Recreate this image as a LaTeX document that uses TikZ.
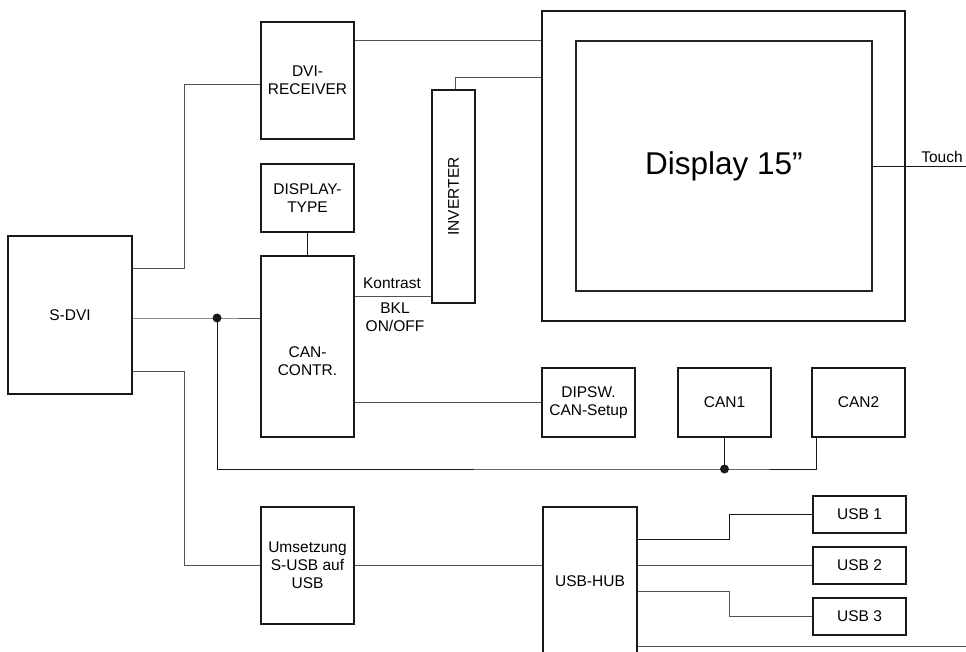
\documentclass[tikz,border=0pt]{standalone}
\usepackage{fontspec}
\setmainfont{Liberation Sans}
\begin{document}
\begin{tikzpicture}[x=1pt,y=-1pt,
  box/.style={draw=black!90,line width=2pt,inner sep=0pt,align=center,
    font=\fontsize{15.5}{18}\selectfont},
  lbl/.style={inner sep=0pt,align=center,font=\fontsize{15.5}{18}\selectfont},
  wire/.style={draw=black!68,line width=0.9pt},
  bus/.style={draw=black!90,line width=0.9pt},
  dot/.style={fill=black!90,draw=none}]
\useasboundingbox (0,0) rectangle (966,652);
\clip (0,0) rectangle (966,652);
% boxes
\node[box,minimum width=93pt,minimum height=117pt] (dvirec) at (307.5,80.5) {DVI-\\RECEIVER};
\node[box,minimum width=93pt,minimum height=68pt] (disptype) at (307.5,198) {DISPLAY-\\TYPE};
\node[box,minimum width=93pt,minimum height=181pt] (canctr) at (307.5,346.5) {};
\node[lbl] (canctrtxt) at (307.5,361) {CAN-\\CONTR.};
\node[box,minimum width=124pt,minimum height=158pt] (sdvi) at (70,315) {S-DVI};
\node[box,minimum width=43pt,minimum height=213pt] (inverter) at (453.5,196.5) {\rotatebox{90}{INVERTER}};
\node[box,minimum width=363pt,minimum height=310pt] (disp) at (723.5,166) {};
\node[draw=black!85,line width=1.1pt,inner sep=0pt,minimum width=296pt,minimum height=250pt,
  font=\fontsize{31.5}{36}\selectfont] (inner) at (724,166) {Display 15”};
\node[box,minimum width=93pt,minimum height=69pt] (dipsw) at (588.5,402.5) {DIPSW.\\CAN-Setup};
\node[box,minimum width=93pt,minimum height=69pt] (can1) at (724.5,402.5) {CAN1};
\node[box,minimum width=93pt,minimum height=69pt] (can2) at (858.5,402.5) {CAN2};
\node[box,minimum width=93pt,minimum height=117pt] (umsetz) at (307.5,565.5) {Umsetzung\\S-USB auf\\USB};
\node[box,minimum width=94pt,minimum height=200pt] (usbhub) at (590,607) {};
\node[lbl] (usbhubtxt) at (590,581) {USB-HUB};
\node[box,minimum width=93pt,minimum height=37pt] (usb1) at (859.5,514.5) {USB 1};
\node[box,minimum width=93pt,minimum height=37pt] (usb2) at (859.5,565.5) {USB 2};
\node[box,minimum width=93pt,minimum height=37pt] (usb3) at (859.5,616.5) {USB 3};
% labels
\node[lbl] (kontrast) at (392,283) {Kontrast};
\node[lbl] (bkl) at (395,317) {BKL\\ON/OFF};
\node[lbl] (touch) at (942,157) {Touch};
% junctions
\coordinate (j1) at (217,318);
\coordinate (j2) at (724.5,469);
% connectors
\draw[wire] ([yshift=47pt]sdvi.east) -- ++(51,0) |- ([yshift=-3.5pt]dvirec.west);
\draw[wire] ([yshift=40.5pt]dvirec.east) coordinate (a1) -- (a1 -| disp.west);
\draw[wire] ([xshift=1.5pt]inverter.north) |- ([yshift=89pt]disp.west);
\draw[bus] (disptype.south) -- (canctr.north);
\draw[wire] ([yshift=50.5pt]canctr.east) coordinate (a2) -- (a2 -| inverter.west);
\draw[wire] ([yshift=-3pt]sdvi.east) -- (j1) -- (j1 -| canctr.west);
\draw[bus] (j1) |- (j2) -| ([xshift=5pt]can2.south west);
\draw[bus] (can1.south) -- (j2);
\draw[wire] ([yshift=-56pt]sdvi.east) -- ++(51,0) |- (umsetz.west);
\draw[wire] (dipsw.west -| canctr.east) -- (dipsw.west);
\draw[wire] (umsetz.east) -- (umsetz.east -| usbhub.west);
\draw[bus] ([yshift=-33pt]usbhub.north east) -- ++(91,0) |- (usb1.west);
\draw[wire] (usb2.west -| usbhub.east) -- (usb2.west);
\draw[wire] ([yshift=-85pt]usbhub.north east) -- ++(91,0) |- (usb3.west);
\draw[wire] ([yshift=-140pt]usbhub.north east) -- ++(340,0) coordinate (outend);
\draw[bus] (inner.east) -- ++(100,0) coordinate (touchend);
\fill[dot] (j1) circle (4.5);
\fill[dot] (j2) circle (4.5);
\end{tikzpicture}
\end{document}
